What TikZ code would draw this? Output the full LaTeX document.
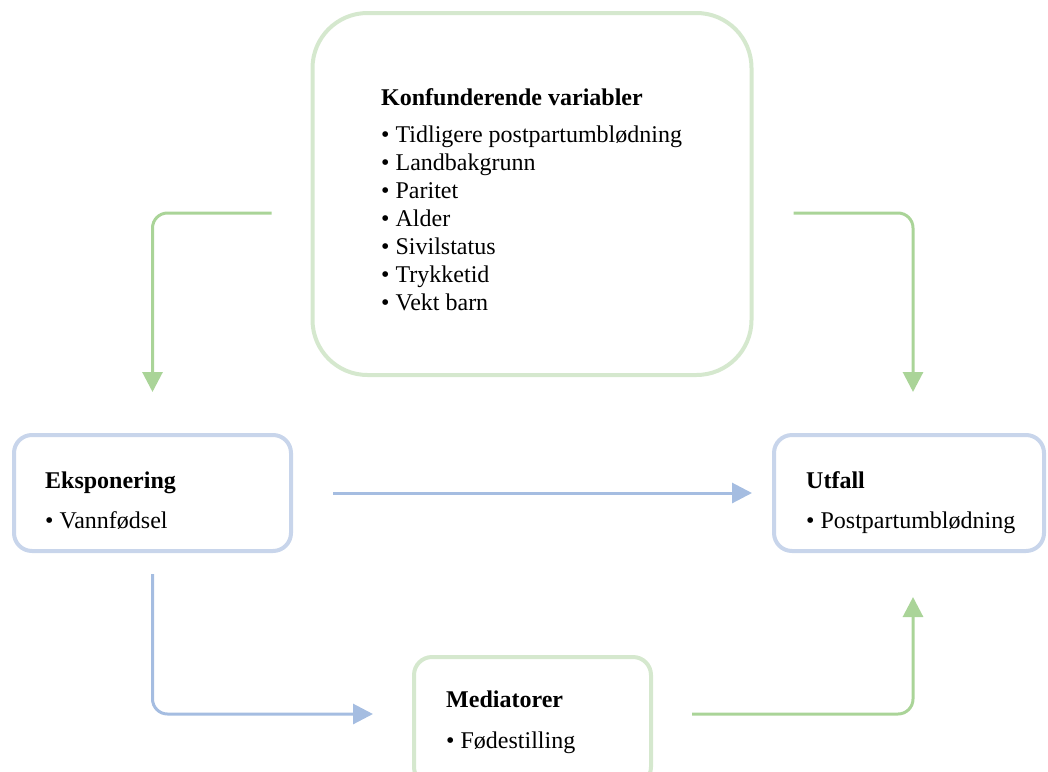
\documentclass[tikz,border=0pt]{standalone}
\usepackage{fontspec}
\setmainfont{Liberation Serif}
\usetikzlibrary{arrows.meta,calc}
\definecolor{gbox}{RGB}{213,232,206}
\definecolor{garrow}{RGB}{170,212,152}
\definecolor{bbox}{RGB}{200,213,235}
\definecolor{barrow}{RGB}{165,189,225}
\begin{document}
\begin{tikzpicture}[x=1pt,y=-1pt,
  greenbox/.style={draw=gbox, line width=4pt, fill=white},
  bluebox/.style={draw=bbox, line width=4pt, fill=white},
  txt/.style={anchor=base west, inner sep=0pt, font=\fontsize{24}{28}\selectfont},
  garr/.style={draw=garrow, line width=3pt, rounded corners=15pt, -{Triangle[length=20pt,width=20pt]}},
  barr/.style={draw=barrow, line width=3pt, rounded corners=15pt, -{Triangle[length=20pt,width=20pt]}}]
\useasboundingbox (0,0) rectangle (1048,771);
\clip (0,0) rectangle (1048,771);

% boxes
\node[greenbox, rounded corners=55pt, minimum width=439pt, minimum height=362pt] (conf) at (532,194) {};
\node[bluebox, rounded corners=18pt, minimum width=277pt, minimum height=116pt] (eks) at (152.5,493) {};
\node[bluebox, rounded corners=18pt, minimum width=270pt, minimum height=116pt] (utf) at (909,493) {};
\node[greenbox, rounded corners=18pt, minimum width=237pt, minimum height=128pt] (med) at (532.5,721) {};

% texts
\node[txt] (conft) at (381,105) {\textbf{Konfunderende variabler}};
\node[txt] (c1) at (381,142) {• Tidligere postpartumblødning};
\node[txt] (c2) at (381,170) {• Landbakgrunn};
\node[txt] (c3) at (381,198) {• Paritet};
\node[txt] (c4) at (381,226) {• Alder};
\node[txt] (c5) at (381,254) {• Sivilstatus};
\node[txt] (c6) at (381,282) {• Trykketid};
\node[txt] (c7) at (381,310) {• Vekt barn};

\node[txt] (ekst) at (45,488) {\textbf{Eksponering}};
\node[txt] (eks1) at (45,528) {• Vannfødsel};

\node[txt] (utft) at (806,488) {\textbf{Utfall}};
\node[txt] (utf1) at (806,528) {• Postpartumblødning};

\node[txt] (medt) at (446,707) {\textbf{Mediatorer}};
\node[txt] (med1) at (446,748) {• Fødestilling};

% connector ends
\coordinate (gls) at ($(conf.west)+(-39,19)$);
\coordinate (gle) at ($(eks.north)+(0,-41)$);
\coordinate (grs) at ($(conf.east)+(40,19)$);
\coordinate (gre) at ($(utf.north)+(4,-41)$);
\coordinate (bs) at ($(eks.east)+(40,0)$);
\coordinate (be) at ($(utf.west)+(-20,0)$);
\coordinate (bls) at ($(eks.south)+(0,21)$);
\coordinate (ble) at ($(med.west)+(-39,-7)$);
\coordinate (gbs) at ($(med.east)+(39,-7)$);
\coordinate (gbe) at ($(utf.south)+(4,44)$);

% connectors
\draw[garr] (gls) -| (gle);
\draw[garr] (grs) -| (gre);
\draw[barr] (bs) -- (be);
\draw[barr] (bls) |- (ble);
\draw[garr] (gbs) -| (gbe);
\end{tikzpicture}
\end{document}
